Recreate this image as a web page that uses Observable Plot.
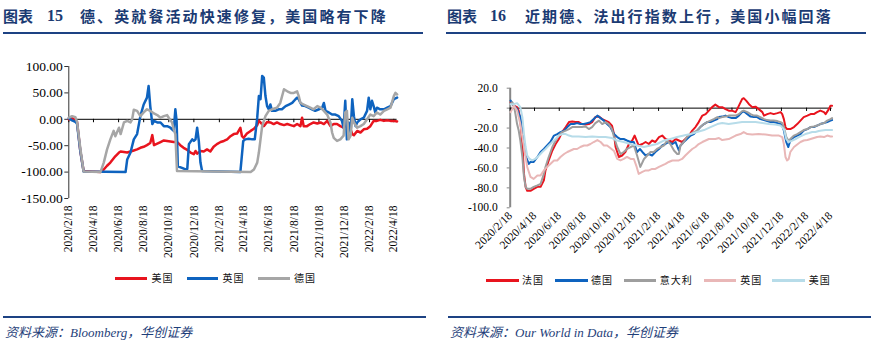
<!DOCTYPE html>
<html><head><meta charset="utf-8">
<script src="https://cdn.jsdelivr.net/npm/d3@7"></script>
<script src="https://cdn.jsdelivr.net/npm/@observablehq/plot@0.6"></script>
<style>
body{margin:0;background:#fff;}
#page{position:relative;width:874px;height:350px;overflow:hidden;background:#fff;}
.t{position:absolute;top:8px;height:16px;line-height:16px;font-size:15px;font-weight:bold;color:#1b3b73;font-family:"Noto Sans CJK SC";white-space:nowrap;}
.num{font-family:"Liberation Serif";font-size:16px;}
.sp{letter-spacing:2.1px;}
.rule{position:absolute;height:2.5px;background:#1d4283;}
.src{position:absolute;top:325px;font-size:13px;font-style:italic;color:#1f3f7a;line-height:16px;white-space:nowrap;font-family:"Liberation Serif","Noto Sans CJK SC";}
.lgl{position:absolute;height:2.5px;}
.lgt{position:absolute;font-size:10px;line-height:12px;letter-spacing:1px;font-family:"Noto Sans CJK SC";color:#111;white-space:nowrap;}
.plot{position:absolute;top:40px;}
</style></head>
<body>
<div id="page">
  <div class="t" style="left:3px">图表</div>
  <div class="t num" style="left:47px">15</div>
  <div class="t sp" style="left:80px">德、英就餐活动快速修复，美国略有下降</div>
  <div class="t" style="left:447px">图表</div>
  <div class="t num" style="left:490px">16</div>
  <div class="t sp" style="left:525px">近期德、法出行指数上行，美国小幅回落</div>
  <div class="rule" style="left:3px;top:31.5px;width:420px"></div>
  <div class="rule" style="left:446px;top:31.5px;width:420px"></div>
  <div class="rule" style="left:3px;top:315.5px;width:423px;height:2px"></div>
  <div class="rule" style="left:448px;top:315.5px;width:423px;height:2px"></div>
  <div class="src" style="left:5px">资料来源：Bloomberg，华创证券</div>
  <div class="src" style="left:450px">资料来源：Our World in Data，华创证券</div>
  <div id="left" class="plot" style="left:0px"></div>
  <div id="right" class="plot" style="left:437px"></div>
</div>
<script>
// ---------- tick labels ----------
const xTickLabels = ["2020/2/18","2020/4/18","2020/6/18","2020/8/18","2020/10/18","2020/12/18","2021/2/18","2021/4/18","2021/6/18","2021/8/18","2021/10/18","2021/12/18","2022/2/18","2022/4/18"];
const leftYTicks = [100, 50, 0, -50, -100, -150];
const rightYTicks = [20, 0, -20, -40, -60, -80, -100];

// ---------- left chart (图表15) ----------
const leftNames = ["美国", "英国", "德国"];
const leftColors = ["#e8141e", "#0e63bf", "#a6a6a6"];
const usLeft = [["2020-02-18",0],["2020-02-26",2],["2020-03-05",-2],["2020-03-09",-5],["2020-03-17",-60],["2020-03-25",-98],["2020-05-05",-100],["2020-05-13",-95],["2020-05-21",-88],["2020-05-29",-82],["2020-06-10",-70],["2020-06-19",-63],["2020-06-23",-61],["2020-07-01",-62],["2020-07-09",-63],["2020-07-17",-61],["2020-07-25",-59],["2020-08-02",-57],["2020-08-10",-54],["2020-08-18",-52],["2020-08-26",-49],["2020-09-03",-45],["2020-09-08",-30],["2020-09-12",-49],["2020-09-20",-46],["2020-09-28",-43],["2020-10-06",-40],["2020-10-14",-41],["2020-10-22",-42],["2020-10-30",-43],["2020-11-07",-43],["2020-11-15",-49],["2020-11-23",-54],["2020-12-02",-58],["2020-12-10",-63],["2020-12-18",-66],["2020-12-22",-60],["2020-12-26",-65],["2021-01-03",-60],["2021-01-11",-61],["2021-01-19",-57],["2021-01-27",-61],["2021-02-04",-52],["2021-02-12",-47],["2021-02-21",-43],["2021-03-01",-41],["2021-03-09",-38],["2021-03-17",-32],["2021-03-25",-28],["2021-04-02",-27],["2021-04-10",-16],["2021-04-14",-32],["2021-04-18",-35],["2021-04-26",-27],["2021-05-05",-22],["2021-05-13",-18],["2021-05-21",-11],["2021-05-25",-3],["2021-05-29",-6],["2021-06-06",-13],["2021-06-14",-5],["2021-06-22",-6],["2021-06-30",-9],["2021-07-08",-6],["2021-07-16",-9],["2021-07-25",-11],["2021-08-02",-9],["2021-08-10",-11],["2021-08-18",-13],["2021-08-26",-9],["2021-09-03",-13],["2021-09-07",3],["2021-09-11",-13],["2021-09-19",-13],["2021-09-27",-9],["2021-10-05",-6],["2021-10-14",-8],["2021-10-22",-6],["2021-10-30",-9],["2021-11-07",-3],["2021-11-15",-13],["2021-11-23",-9],["2021-12-01",-9],["2021-12-09",-13],["2021-12-17",-16],["2021-12-25",-9],["2022-01-03",-19],["2022-01-07",-28],["2022-01-11",-30],["2022-01-19",-22],["2022-01-27",-25],["2022-02-04",-19],["2022-02-12",-18],["2022-02-20",-13],["2022-02-28",-3],["2022-03-08",-3],["2022-03-16",-1],["2022-03-25",-3],["2022-04-02",-2],["2022-04-10",-3],["2022-04-18",-3],["2022-04-26",-4]];
const ukLeft = [["2020-02-18",2],["2020-02-26",-2],["2020-03-05",-5],["2020-03-09",-8],["2020-03-17",-60],["2020-03-25",-99],["2020-07-05",-100],["2020-07-09",-76],["2020-07-17",-63],["2020-07-25",-38],["2020-08-02",-28],["2020-08-10",6],["2020-08-18",28],["2020-08-26",41],["2020-08-30",63],["2020-09-03",25],["2020-09-08",-9],["2020-09-12",-3],["2020-09-20",-6],["2020-09-28",-6],["2020-10-06",-13],["2020-10-14",-13],["2020-10-22",-16],["2020-10-30",-22],["2020-11-03",19],["2020-11-06",-3],["2020-11-09",-89],["2020-11-19",-92],["2020-11-28",-95],["2020-12-02",-94],["2020-12-06",-47],["2020-12-14",-38],["2020-12-18",-41],["2020-12-22",-38],["2020-12-26",-16],["2020-12-30",-41],["2021-01-03",-82],["2021-01-07",-98],["2021-04-10",-100],["2021-04-17",-41],["2021-04-22",-38],["2021-04-30",-37],["2021-05-09",-38],["2021-05-15",-38],["2021-05-21",3],["2021-05-25",44],["2021-05-29",38],["2021-06-02",82],["2021-06-06",79],["2021-06-10",44],["2021-06-14",25],["2021-06-18",19],["2021-06-22",28],["2021-06-26",16],["2021-07-04",16],["2021-07-12",19],["2021-07-20",19],["2021-07-29",25],["2021-08-06",28],["2021-08-14",31],["2021-08-22",38],["2021-08-26",41],["2021-08-30",38],["2021-09-03",31],["2021-09-07",26],["2021-09-15",25],["2021-09-23",22],["2021-10-01",19],["2021-10-09",16],["2021-10-18",19],["2021-10-26",22],["2021-10-30",31],["2021-11-03",16],["2021-11-11",13],["2021-11-19",9],["2021-11-27",9],["2021-12-05",6],["2021-12-13",-3],["2021-12-17",-16],["2021-12-21",35],["2021-12-25",-38],["2021-12-29",-6],["2022-01-03",-25],["2022-01-07",38],["2022-01-11",6],["2022-01-15",-13],["2022-01-19",-6],["2022-01-27",0],["2022-02-04",3],["2022-02-12",16],["2022-02-16",41],["2022-02-20",19],["2022-02-24",35],["2022-02-28",25],["2022-03-04",13],["2022-03-08",22],["2022-03-16",19],["2022-03-25",19],["2022-04-02",22],["2022-04-10",25],["2022-04-18",38],["2022-04-26",41]];
const deLeft = [["2020-02-18",3],["2020-02-26",6],["2020-03-05",4],["2020-03-09",-5],["2020-03-17",-55],["2020-03-25",-99],["2020-05-05",-100],["2020-05-13",-82],["2020-05-21",-57],["2020-05-29",-38],["2020-06-06",-22],["2020-06-10",-32],["2020-06-19",-16],["2020-06-23",-28],["2020-07-01",-6],["2020-07-09",-3],["2020-07-17",-6],["2020-07-21",0],["2020-07-25",18],["2020-08-02",16],["2020-08-10",6],["2020-08-18",13],["2020-08-26",19],["2020-09-03",16],["2020-09-12",11],["2020-09-20",8],["2020-09-28",3],["2020-10-06",6],["2020-10-14",8],["2020-10-18",3],["2020-10-26",-6],["2020-10-30",-19],["2020-11-03",-28],["2020-11-07",-98],["2021-05-05",-100],["2021-05-13",-95],["2021-05-21",-82],["2021-05-25",-63],["2021-05-29",-38],["2021-06-02",-13],["2021-06-10",6],["2021-06-18",16],["2021-06-26",19],["2021-07-08",22],["2021-07-16",31],["2021-07-25",57],["2021-08-02",53],["2021-08-10",50],["2021-08-18",50],["2021-08-26",53],["2021-08-30",44],["2021-09-03",31],["2021-09-11",28],["2021-09-19",25],["2021-09-27",22],["2021-10-05",19],["2021-10-14",25],["2021-10-22",22],["2021-10-30",16],["2021-11-07",9],["2021-11-15",-6],["2021-11-19",-25],["2021-11-23",-35],["2021-12-01",-41],["2021-12-09",-38],["2021-12-17",-31],["2021-12-21",13],["2021-12-25",16],["2021-12-29",-38],["2022-01-03",-31],["2022-01-07",3],["2022-01-11",-6],["2022-01-19",-16],["2022-01-27",-13],["2022-02-04",-9],["2022-02-12",0],["2022-02-20",9],["2022-02-28",6],["2022-03-08",13],["2022-03-16",9],["2022-03-25",16],["2022-04-02",19],["2022-04-10",22],["2022-04-18",44],["2022-04-22",50],["2022-04-26",47]];

// ---------- right chart (图表16) ----------
const rightNames = ["法国", "德国", "意大利", "英国", "美国"];
const rightColors = ["#e8141e", "#0e63bf", "#9e9e9e", "#e9b7b7", "#b7dce9"];
const frRight = [["2020-02-19",6],["2020-02-27",2.5],["2020-03-06",1],["2020-03-10",-2.5],["2020-03-14",-12.5],["2020-03-19",-36],["2020-03-23",-66],["2020-03-27",-79],["2020-03-31",-83],["2020-04-08",-83],["2020-04-16",-81],["2020-04-25",-79],["2020-05-03",-79],["2020-05-11",-72.5],["2020-05-15",-62.5],["2020-05-23",-52.5],["2020-06-01",-42.5],["2020-06-09",-36],["2020-06-17",-31],["2020-06-25",-24],["2020-07-04",-19],["2020-07-12",-14],["2020-07-20",-13.5],["2020-07-28",-14],["2020-08-05",-14],["2020-08-13",-16],["2020-08-22",-16.5],["2020-08-30",-16],["2020-09-07",-14],["2020-09-15",-9],["2020-09-24",-8.5],["2020-10-02",-11],["2020-10-10",-12.5],["2020-10-18",-14],["2020-10-26",-17.5],["2020-10-31",-26],["2020-11-04",-39],["2020-11-12",-49],["2020-11-20",-47.5],["2020-11-28",-44],["2020-12-07",-36],["2020-12-15",-32.5],["2020-12-21",-27.5],["2020-12-26",-32.5],["2020-12-31",-37.5],["2021-01-09",-36],["2021-01-17",-34],["2021-01-25",-36],["2021-02-02",-32.5],["2021-02-10",-34],["2021-02-19",-29],["2021-02-27",-27.5],["2021-03-07",-31],["2021-03-15",-32.5],["2021-03-24",-34],["2021-04-01",-31],["2021-04-09",-32.5],["2021-04-17",-34],["2021-04-25",-31],["2021-05-04",-27.5],["2021-05-12",-22.5],["2021-05-20",-19],["2021-05-28",-14],["2021-06-06",-7.5],["2021-06-14",-6],["2021-06-22",-2.5],["2021-06-30",1],["2021-07-08",3.5],["2021-07-17",1],["2021-07-25",1],["2021-08-02",-1],["2021-08-10",-2.5],["2021-08-18",-2.5],["2021-08-27",-4],["2021-08-31",-1],["2021-09-06",4],["2021-09-12",9],["2021-09-16",10],["2021-09-22",7.5],["2021-09-29",4],["2021-10-07",1],["2021-10-15",1.5],["2021-10-23",-1],["2021-11-01",-4],["2021-11-05",-7.5],["2021-11-13",-6],["2021-11-21",-5],["2021-11-29",-6],["2021-12-08",-5],["2021-12-16",-4],["2021-12-20",-6],["2021-12-24",-11],["2021-12-28",-19],["2022-01-01",-21],["2022-01-09",-21],["2022-01-18",-19],["2022-01-26",-16],["2022-02-03",-12.5],["2022-02-11",-9],["2022-02-20",-7.5],["2022-02-28",-6],["2022-03-08",-6],["2022-03-16",-4],["2022-03-24",-2.5],["2022-04-02",-4],["2022-04-06",-6],["2022-04-14",-1],["2022-04-18",2.5],["2022-04-22",2.5]];
const deRight = [["2020-02-19",7.5],["2020-02-27",2.5],["2020-03-06",-1],["2020-03-14",-9],["2020-03-23",-32.5],["2020-03-28",-49],["2020-04-04",-56],["2020-04-08",-54],["2020-04-16",-54],["2020-04-25",-49],["2020-05-03",-44],["2020-05-11",-41],["2020-05-19",-37.5],["2020-05-27",-34],["2020-06-05",-27.5],["2020-06-13",-26],["2020-06-21",-24],["2020-06-30",-22.5],["2020-07-08",-19],["2020-07-16",-16],["2020-07-24",-16],["2020-08-01",-15],["2020-08-09",-16],["2020-08-18",-16],["2020-08-26",-15],["2020-09-03",-14],["2020-09-11",-11],["2020-09-20",-7.5],["2020-09-28",-10],["2020-10-06",-12.5],["2020-10-14",-16],["2020-10-22",-19],["2020-10-31",-26],["2020-11-08",-29],["2020-11-16",-31],["2020-11-24",-31],["2020-12-02",-32.5],["2020-12-11",-34],["2020-12-19",-34],["2020-12-23",-39],["2020-12-27",-44],["2021-01-03",-41],["2021-01-09",-44],["2021-01-17",-47.5],["2021-01-25",-46],["2021-02-02",-47.5],["2021-02-10",-44],["2021-02-19",-41],["2021-02-27",-37.5],["2021-03-07",-36],["2021-03-15",-34],["2021-03-24",-36],["2021-04-01",-34],["2021-04-09",-42.5],["2021-04-13",-37.5],["2021-04-21",-34],["2021-04-29",-31],["2021-05-08",-27.5],["2021-05-16",-26],["2021-05-24",-22.5],["2021-06-01",-19],["2021-06-10",-16],["2021-06-18",-14],["2021-06-26",-14],["2021-07-04",-12.5],["2021-07-13",-11],["2021-07-17",-9],["2021-07-25",-8.5],["2021-08-02",-7.5],["2021-08-10",-9],["2021-08-18",-10],["2021-08-27",-10],["2021-09-04",-7.5],["2021-09-12",-4],["2021-09-16",-3],["2021-09-25",-6],["2021-10-03",-8.5],["2021-10-11",-9],["2021-10-19",-9],["2021-10-27",-11],["2021-11-05",-12],["2021-11-13",-13],["2021-11-21",-14],["2021-11-29",-14],["2021-12-08",-15],["2021-12-16",-16],["2021-12-20",-17.5],["2021-12-24",-22.5],["2021-12-30",-34],["2022-01-04",-39],["2022-01-09",-32.5],["2022-01-18",-29],["2022-01-26",-27.5],["2022-02-03",-26],["2022-02-11",-22.5],["2022-02-20",-21],["2022-02-28",-19],["2022-03-08",-19],["2022-03-16",-17.5],["2022-03-24",-16],["2022-04-02",-15],["2022-04-10",-14],["2022-04-18",-12.5],["2022-04-22",-12]];
const itRight = [["2020-02-19",4],["2020-02-23",6],["2020-02-27",2.5],["2020-03-02",-6],["2020-03-06",-16],["2020-03-10",-22.5],["2020-03-14",-32.5],["2020-03-19",-49],["2020-03-23",-69],["2020-03-27",-79],["2020-03-31",-81],["2020-04-08",-81],["2020-04-16",-79],["2020-04-25",-77.5],["2020-05-03",-76],["2020-05-11",-66],["2020-05-15",-59],["2020-05-23",-49],["2020-06-01",-39],["2020-06-09",-32.5],["2020-06-17",-27.5],["2020-06-25",-24],["2020-07-04",-22.5],["2020-07-12",-21],["2020-07-20",-19],["2020-07-28",-19],["2020-08-05",-19],["2020-08-13",-19],["2020-08-22",-18.5],["2020-08-30",-21],["2020-09-07",-19],["2020-09-15",-15],["2020-09-24",-12.5],["2020-10-02",-16],["2020-10-10",-14],["2020-10-18",-16],["2020-10-26",-21],["2020-10-31",-29],["2020-11-08",-39],["2020-11-16",-46],["2020-11-24",-44],["2020-12-02",-41],["2020-12-11",-39],["2020-12-19",-37.5],["2020-12-27",-47.5],["2021-01-04",-59],["2021-01-13",-51],["2021-01-21",-47.5],["2021-01-29",-44],["2021-02-06",-44],["2021-02-14",-41],["2021-02-23",-39],["2021-03-03",-37.5],["2021-03-11",-32.5],["2021-03-19",-36],["2021-03-28",-42.5],["2021-04-05",-46],["2021-04-09",-46],["2021-04-13",-37.5],["2021-04-21",-34],["2021-04-29",-29],["2021-05-08",-26],["2021-05-16",-24],["2021-05-24",-22.5],["2021-06-01",-19],["2021-06-10",-16],["2021-06-18",-14],["2021-06-26",-12.5],["2021-07-04",-11],["2021-07-13",-9],["2021-07-17",-10],["2021-07-25",-9],["2021-08-02",-8.5],["2021-08-10",-7.5],["2021-08-18",-7.5],["2021-08-27",-7.5],["2021-09-04",-6],["2021-09-12",-3],["2021-09-16",-2.5],["2021-09-25",-4],["2021-10-03",-6],["2021-10-11",-7.5],["2021-10-19",-7.5],["2021-10-27",-9],["2021-11-05",-11],["2021-11-13",-12],["2021-11-21",-12.5],["2021-11-29",-12.5],["2021-12-08",-13],["2021-12-16",-14],["2021-12-20",-15],["2021-12-24",-19],["2021-12-30",-29],["2022-01-04",-32.5],["2022-01-09",-31],["2022-01-18",-27.5],["2022-01-26",-26],["2022-02-03",-24],["2022-02-11",-22],["2022-02-20",-21],["2022-02-28",-19],["2022-03-08",-18.5],["2022-03-16",-17.5],["2022-03-24",-16],["2022-04-02",-15],["2022-04-10",-12.5],["2022-04-18",-11],["2022-04-22",-10]];
const ukRight = [["2020-02-19",-4],["2020-02-23",-1],["2020-02-27",2.5],["2020-03-06",-2.5],["2020-03-14",-16],["2020-03-23",-39],["2020-03-31",-59],["2020-04-08",-69],["2020-04-16",-71],["2020-04-25",-67.5],["2020-05-03",-67.5],["2020-05-11",-62.5],["2020-05-19",-59],["2020-05-27",-56],["2020-06-05",-52.5],["2020-06-13",-52.5],["2020-06-21",-49],["2020-06-30",-46],["2020-07-08",-44],["2020-07-16",-42.5],["2020-07-24",-41],["2020-08-01",-41],["2020-08-09",-39],["2020-08-18",-37.5],["2020-08-26",-37.5],["2020-09-03",-36],["2020-09-11",-34],["2020-09-20",-32],["2020-09-28",-34],["2020-10-06",-37.5],["2020-10-14",-37.5],["2020-10-22",-40],["2020-10-31",-43],["2020-11-08",-51],["2020-11-16",-52.5],["2020-11-24",-51],["2020-12-02",-49],["2020-12-11",-51],["2020-12-19",-51],["2020-12-26",-59],["2020-12-31",-66],["2021-01-09",-64],["2021-01-17",-62.5],["2021-01-25",-62.5],["2021-02-02",-61],["2021-02-10",-61],["2021-02-19",-59],["2021-02-27",-57.5],["2021-03-07",-56],["2021-03-15",-54],["2021-03-24",-52.5],["2021-04-01",-52.5],["2021-04-09",-52.5],["2021-04-17",-51],["2021-04-25",-47.5],["2021-05-04",-44],["2021-05-12",-41],["2021-05-20",-39],["2021-05-28",-36],["2021-06-06",-34],["2021-06-14",-32.5],["2021-06-22",-31],["2021-06-30",-31],["2021-07-08",-31],["2021-07-17",-30],["2021-07-25",-32],["2021-08-10",-31],["2021-08-27",-27.5],["2021-09-08",-26],["2021-09-16",-24],["2021-09-25",-26],["2021-10-07",-26.5],["2021-10-23",-26],["2021-11-09",-26.5],["2021-11-25",-27.5],["2021-12-12",-27.5],["2021-12-20",-29],["2021-12-24",-36],["2021-12-28",-49],["2022-01-01",-52.5],["2022-01-05",-51],["2022-01-09",-44],["2022-01-18",-39],["2022-01-26",-36.5],["2022-02-03",-34],["2022-02-11",-32.5],["2022-02-20",-32],["2022-02-28",-31],["2022-03-08",-30],["2022-03-16",-29],["2022-03-24",-28.5],["2022-04-02",-29],["2022-04-10",-27.5],["2022-04-18",-28.5],["2022-04-22",-28.5]];
const usRight = [["2020-02-19",4],["2020-02-27",4],["2020-03-06",5],["2020-03-14",1],["2020-03-19",-9],["2020-03-23",-26],["2020-03-27",-39],["2020-03-31",-47.5],["2020-04-06",-51],["2020-04-12",-52.5],["2020-04-20",-51],["2020-04-29",-47.5],["2020-05-07",-44],["2020-05-15",-41],["2020-05-23",-37.5],["2020-06-01",-34],["2020-06-09",-31],["2020-06-17",-27.5],["2020-06-25",-26],["2020-07-04",-26],["2020-07-12",-27.5],["2020-07-20",-28.5],["2020-08-05",-28.5],["2020-08-22",-29],["2020-09-07",-28.5],["2020-09-24",-29],["2020-10-10",-29],["2020-10-26",-30],["2020-11-08",-32.5],["2020-11-24",-34],["2020-12-11",-36],["2020-12-27",-37.5],["2021-01-13",-39],["2021-01-29",-37.5],["2021-02-14",-36],["2021-03-03",-32.5],["2021-03-19",-31],["2021-04-05",-29],["2021-04-21",-27.5],["2021-05-08",-26],["2021-05-24",-24],["2021-06-10",-22],["2021-06-26",-19],["2021-07-13",-16],["2021-07-25",-15],["2021-08-10",-16],["2021-08-27",-15],["2021-09-12",-14],["2021-09-29",-14],["2021-10-15",-14],["2021-11-01",-15],["2021-11-17",-16],["2021-12-03",-16.5],["2021-12-16",-17.5],["2021-12-24",-21],["2021-12-30",-31],["2022-01-05",-34],["2022-01-14",-32.5],["2022-01-22",-31],["2022-01-30",-29],["2022-02-07",-27.5],["2022-02-15",-26],["2022-02-24",-25],["2022-03-04",-24],["2022-03-12",-24],["2022-03-20",-23],["2022-03-28",-22.5],["2022-04-06",-22],["2022-04-14",-22],["2022-04-22",-22]];

// ---------- helpers ----------
const parseLabel = s => { const [y, m, d] = s.split("/").map(Number); return new Date(Date.UTC(y, m - 1, d)); };
const tickDates = xTickLabels.map(parseLabel);
const labelOf = d => xTickLabels[tickDates.findIndex(t => +t === +d)];
const toRows = arr => arr.map(([d, v]) => ({date: new Date(d + "T00:00:00Z"), value: v}));
const leftSeries = [usLeft, ukLeft, deLeft].map(toRows);
const rightSeries = [frRight, deRight, itRight, ukRight, usRight].map(toRows);

// ---------- left plot ----------
const leftPlot = Plot.plot({
  width: 430, height: 220,
  marginTop: 26, marginBottom: 62, marginLeft: 68.3, marginRight: 33.4,
  style: {background: "transparent", fontFamily: "Liberation Serif", color: "#000", overflow: "visible"},
  x: {type: "utc", domain: [tickDates[0], new Date("2022-04-26T00:00:00Z")]},
  y: {domain: [-150, 100]},
  marks: [
    Plot.axisY({ticks: leftYTicks, tickFormat: d => d.toFixed(2), tickSize: 4, tickPadding: 2, fontSize: 13.5, label: null, stroke: "#333"}),
    Plot.ruleX([tickDates[0]], {stroke: "#333", strokeWidth: 1}),
    Plot.axisX({ticks: tickDates, tickFormat: labelOf, tickRotate: -90, tickSize: 0, tickPadding: 7, fontSize: 11.5, label: null}),
    Plot.ruleY([0], {stroke: "#000", strokeWidth: 1}),
    Plot.ruleX(tickDates, {y1: 0, y2: -6.5, stroke: "#000", strokeWidth: 1}),
    ...leftSeries.map((s, i) => Plot.line(s, {x: "date", y: "value", stroke: leftColors[i], strokeWidth: 2.5}))
  ]
});
document.getElementById("left").appendChild(leftPlot);

// ---------- right plot ----------
const rightPlot = Plot.plot({
  width: 437, height: 220,
  marginTop: 47.7, marginBottom: 52.7, marginLeft: 72.7, marginRight: 42.4,
  style: {background: "transparent", fontFamily: "Liberation Serif", color: "#000", overflow: "visible"},
  x: {type: "utc", domain: [tickDates[0], new Date("2022-04-22T00:00:00Z")]},
  y: {domain: [-100, 20]},
  marks: [
    Plot.axisY({ticks: rightYTicks.filter(v => v !== 0), tickFormat: d => d.toFixed(1), tickSize: 3, tickPadding: 9.5, fontSize: 11.5, label: null, stroke: "#888"}),
    Plot.axisY({ticks: rightYTicks.filter(v => v === 0), tickFormat: () => "-", tickSize: 3, tickPadding: 16, fontSize: 11.5, label: null, stroke: "#888"}),
    Plot.ruleX([tickDates[0]], {stroke: "#888", strokeWidth: 2}),
    Plot.axisX({ticks: tickDates, tickFormat: labelOf, tickRotate: -45, tickSize: 0, tickPadding: 6, fontSize: 11.5, label: null}),
    Plot.ruleY([0], {stroke: "#000", strokeWidth: 1}),
    Plot.ruleX(tickDates, {y1: 0, y2: -3.3, stroke: "#000", strokeWidth: 1}),
    ...rightSeries.map((s, i) => Plot.line(s, {x: "date", y: "value", stroke: rightColors[i], strokeWidth: 2}))
  ]
});
document.getElementById("right").appendChild(rightPlot);

// ---------- legends ----------
const page = document.getElementById("page");
function legend(names, colors, lineX, textX, lineW, y) {
  names.forEach((n, i) => {
    const l = document.createElement("div");
    l.className = "lgl";
    l.style.left = lineX[i] + "px"; l.style.width = lineW + "px";
    l.style.top = (y - 1.25) + "px"; l.style.background = colors[i];
    page.appendChild(l);
    const t = document.createElement("div");
    t.className = "lgt"; t.textContent = n;
    t.style.left = textX[i] + "px"; t.style.top = (y - 6) + "px";
    page.appendChild(t);
  });
}
legend(leftNames, leftColors, [115, 186.7, 258.3], [151.5, 222.5, 294], 31.5, 278.3);
legend(rightNames, rightColors, [486.3, 555.3, 623.7, 703.7, 772], [522, 591, 659.7, 740.3, 808.7], 32.5, 280.3);
</script>
</body></html>
